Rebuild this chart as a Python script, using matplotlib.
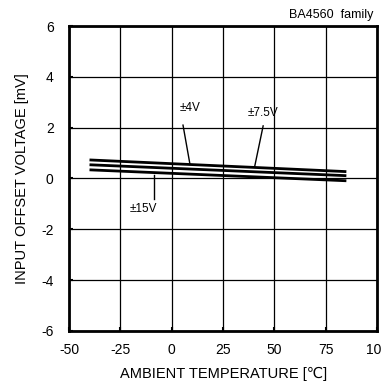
import matplotlib
matplotlib.use("Agg")
from matplotlib import pyplot as plt

plt.rcParams['font.family'] = ['Liberation Sans', 'DejaVu Sans']
plt.rcParams['axes.unicode_minus'] = False

# offset voltage vs ambient temperature
temp = [-40, 85]
v_4 = [0.73, 0.27]
v_7p5 = [0.54, 0.11]
v_15 = [0.34, -0.09]

x_ticks = [-50, -25, 0, 25, 50, 75, 100]
y_ticks = [-6, -4, -2, 0, 2, 4, 6]

fig = plt.figure(figsize=(3.81, 3.83), dpi=100)
ax = fig.add_axes([0.181, 0.136, 0.809, 0.796])

for v in (v_4, v_7p5, v_15):
    ax.plot(temp, v, color='black', lw=2.0, solid_capstyle='butt')

ax.set_xlim(-50, 100)
ax.set_ylim(-6, 6)
ax.set_xticks(x_ticks)
ax.set_yticks(y_ticks)
ax.grid(True, color='black', lw=0.9)
ax.tick_params(direction='in', length=3, width=1.5, labelsize=10)
ax.tick_params(axis='x', pad=9)
ax.tick_params(axis='y', pad=11)
for s in ax.spines.values():
    s.set_linewidth(2.0)

# leader lines + labels
ax.plot([5.5, 8.9], [2.1, 0.55], color='black', lw=1)
ax.text(4.1, 2.78, '±4V', fontsize=8.5, ha='left', va='center')
ax.plot([44.5, 40.3], [2.07, 0.44], color='black', lw=1)
ax.text(37.2, 2.58, '±7.5V', fontsize=8.5, ha='left', va='center')
ax.plot([-8.6, -8.6], [0.14, -0.8], color='black', lw=1)
ax.text(-20.3, -1.2, '±15V', fontsize=8.5, ha='left', va='center')

ax.set_xlabel('AMBIENT TEMPERATURE [℃]', fontsize=10.5, labelpad=7)
ax.set_ylabel('INPUT OFFSET VOLTAGE [mV]', fontsize=10.5, labelpad=9)
fig.text(0.979, 0.961, 'BA4560  family', fontsize=9, ha='right', va='center')

fig.savefig('out.png', dpi=100)
